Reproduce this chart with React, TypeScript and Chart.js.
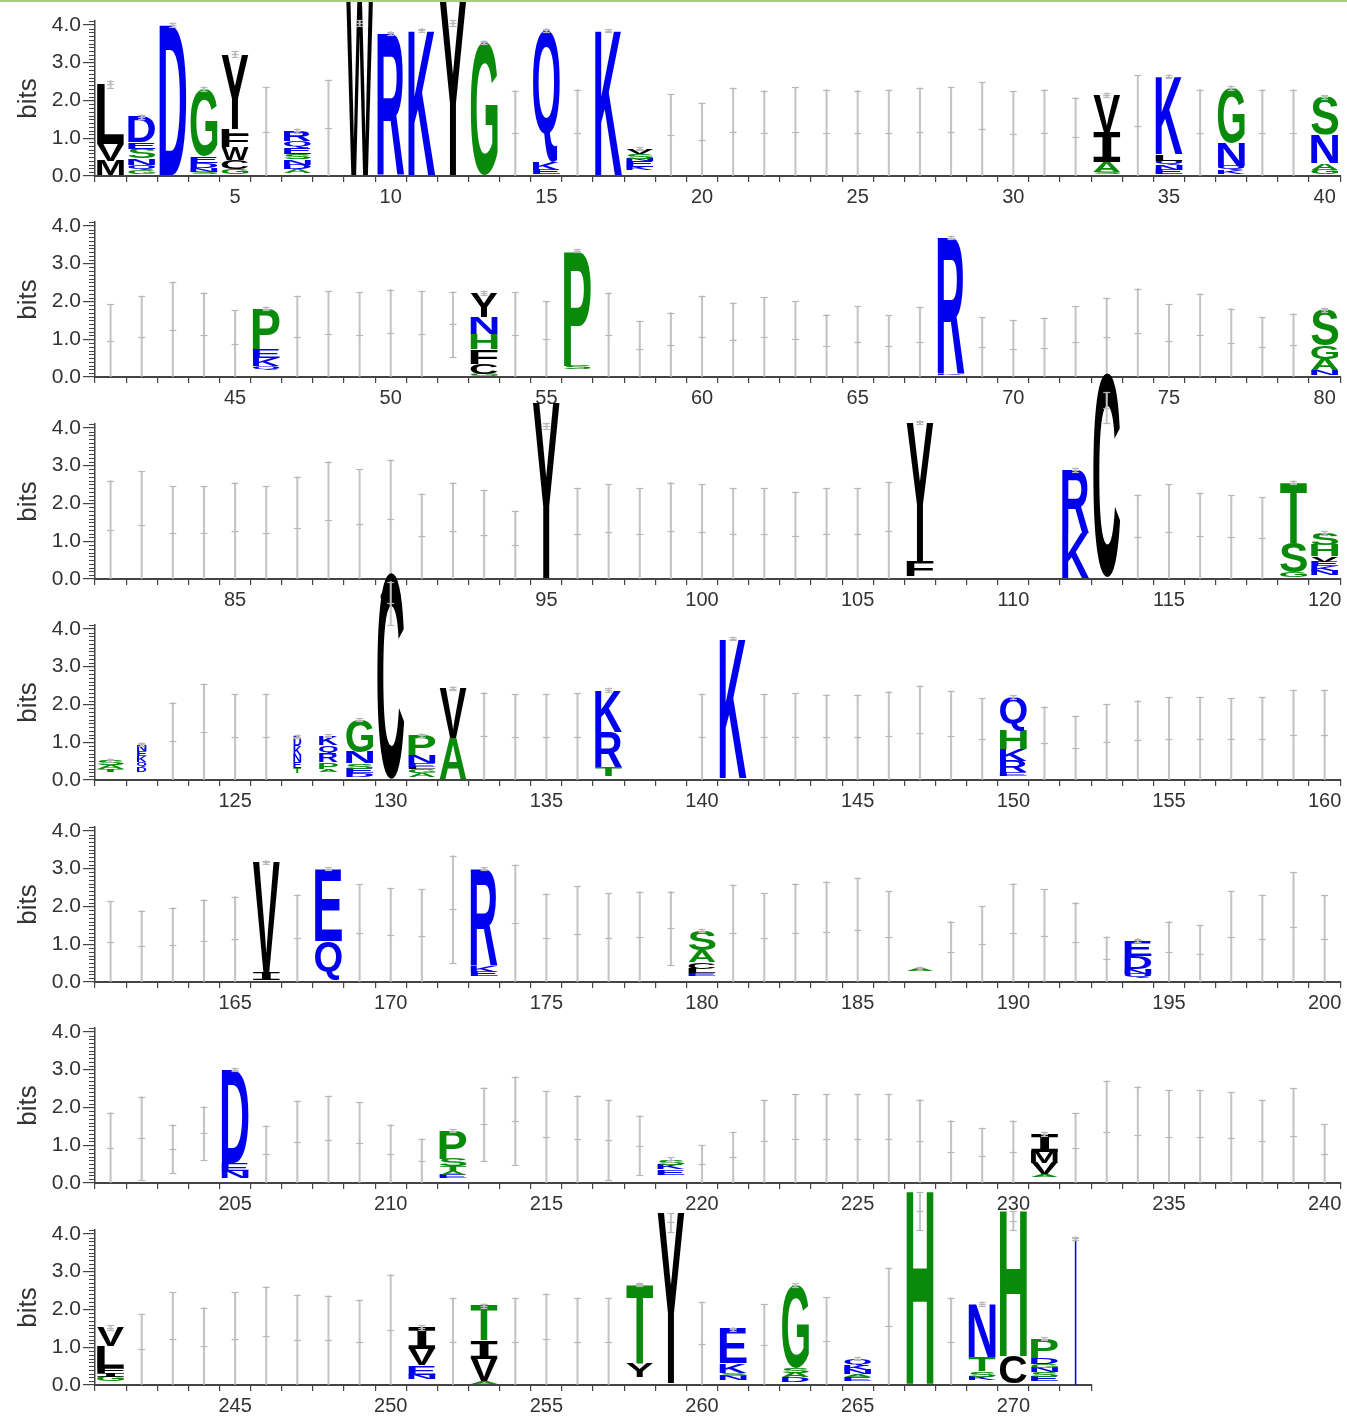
import React, { useEffect, useRef } from "react";
import { Chart, registerables } from "chart.js";
Chart.register(...registerables);

// ---------------- data ----------------
const rowStart = [1, 41, 81, 121, 161, 201, 241];
const rowEnd = [40, 80, 120, 160, 200, 240, 272];

// error bar top / centre (bits) per position, null = no column
const errTop1 = [2.52,1.62,4.05,2.36,3.3,2.35,1.25,2.54,4.12,3.82, 3.9,4.12,3.58,2.26,3.9,2.28,3.88,0.76,2.16,1.93, 2.33,2.26,2.35,2.28,2.26,2.28,2.33,2.35,2.48,2.24, 2.28,2.07,2.2,2.66,2.68,2.28,2.38,2.28,2.28,2.13];
const errMid1 = [2.43,1.56,4.0,2.3,3.23,0.78,1.19,1.03,4.05,3.77, 3.86,4.05,3.54,0.53,3.86,0.63,3.84,0.72,0.77,0.61, 0.79,0.59,0.72,0.66,0.59,0.63,0.7,0.7,0.77,0.68, 0.77,0.66,2.15,0.96,2.63,0.55,2.33,0.77,0.79,2.08];
const errTop2 = [1.92,2.14,2.51,2.23,1.76,1.86,2.14,2.27,2.24,2.31, 2.27,2.25,2.28,2.24,2.0,3.38,2.23,1.48,1.7,2.14, 1.96,2.11,2.0,1.65,1.87,1.63,1.85,3.73,1.58,1.5, 1.56,1.87,2.09,2.34,1.92,2.2,1.81,1.58,1.67,1.82];
const errMid2 = [0.64,0.62,0.76,0.64,0.64,1.81,0.6,0.62,0.57,0.64, 0.62,1.39,2.23,0.5,0.6,3.34,1.11,0.52,0.64,0.77, 0.67,0.53,0.58,0.53,0.73,0.66,0.86,3.69,0.62,0.44, 0.6,0.73,0.64,0.7,0.6,0.82,0.6,0.6,0.79,1.77];
const errTop3 = [2.6,2.85,2.45,2.45,2.55,2.45,2.7,3.1,2.9,3.15, 2.25,2.55,2.35,1.8,4.12,2.4,2.5,2.4,2.55,2.5, 2.4,2.4,2.3,2.4,2.4,2.56,4.18,null,null,null, null,2.94,4.94,2.23,2.5,2.27,2.21,2.16,2.6,1.27];
const errMid3 = [1.0,1.27,1.0,0.9,1.0,0.9,1.15,1.15,1.4,1.3, 0.76,0.95,0.8,0.7,4.05,0.75,0.8,0.8,0.9,0.75, 0.63,0.7,0.75,0.75,0.9,0.86,4.14,null,null,null, null,2.89,4.53,0.71,0.76,0.58,0.6,0.8,2.55,1.22];
const errTop4 = [0.56,0.99,2.05,2.54,2.27,2.27,1.19,1.21,1.63,5.25, 1.23,2.47,2.31,2.27,2.27,2.29,2.43,null,null,2.27, 3.78,2.27,2.29,2.25,2.25,2.34,2.49,2.35,2.16,2.24, 1.94,1.69,2.0,2.1,2.19,2.19,2.16,2.19,2.38,2.38];
const errMid4 = [0.52,0.95,0.97,0.77,0.6,0.78,1.15,1.17,1.59,4.68, 1.19,2.42,0.67,0.55,0.53,0.64,2.38,null,null,0.64, 3.74,0.62,0.65,0.53,0.56,0.69,0.75,0.72,0.62,2.19, 0.65,0.58,0.69,0.69,0.65,0.62,0.64,0.66,0.73,0.73];
const errTop5 = [2.14,1.89,1.96,2.18,2.26,3.21,2.31,3.03,2.58,2.48, 2.45,3.34,3.03,3.1,2.33,2.53,2.35,2.39,2.39,1.4, 2.57,2.35,2.6,2.65,2.75,2.4,0.4,1.6,2.0,2.6, 2.45,2.1,1.2,1.15,1.6,1.5,2.4,2.3,2.9,2.3];
const errMid5 = [0.6,0.55,0.66,0.88,0.82,3.17,0.66,2.99,0.84,0.78, 0.7,1.92,2.99,1.51,0.84,0.9,0.84,1.06,1.42,1.36, 0.9,0.7,0.85,0.75,0.55,0.7,0.36,0.6,0.65,0.85, 0.75,0.6,0.5,1.1,0.6,0.6,0.8,0.75,0.9,0.8];
const errTop6 = [1.86,2.28,1.54,2.02,3.04,1.51,2.17,2.3,2.13,1.54, 1.17,1.42,2.52,2.81,2.43,2.31,2.2,1.78,0.68,1.0, 1.35,2.2,2.35,2.35,2.35,2.35,2.2,1.65,1.45,1.65, 1.35,1.85,2.7,2.55,2.45,2.45,2.4,2.2,2.5,1.55];
const errMid6 = [0.72,1.18,0.9,1.32,3.0,0.7,0.68,0.66,0.59,0.55, 0.52,1.38,1.55,1.64,0.94,0.8,1.14,0.99,0.62,0.5, 0.6,0.8,0.85,0.85,0.85,0.85,0.8,0.7,0.65,0.7, 1.3,0.7,1.0,0.9,0.9,0.85,0.85,0.8,0.9,0.7];
const errTop7 = [1.58,1.88,2.45,2.05,2.45,2.6,2.38,2.36,2.25,2.92, 1.58,2.3,2.15,2.3,2.41,2.3,2.3,2.7,4.54,2.19, 1.52,2.13,2.69,2.32,0.74,3.1,5.1,2.3,2.2,4.6, 1.26,3.92];
const errMid7 = [1.52,0.6,1.04,0.58,0.84,0.8,0.77,0.75,0.86,1.28, 1.52,0.55,2.1,0.63,0.7,0.63,0.6,2.66,4.3,0.7, 1.47,0.58,2.64,0.84,0.7,1.27,4.6,0.63,2.15,4.35, 1.22,3.88];

// letter stacks, bottom to top: letter + height in bits ("_" = faint filler, "~" = column width fraction)
const stacks1: [number, string][] = [
  [1, "_.02 M.39 V.44 L1.58"],
  [2, "_.06 G.09 Q.13 N.18 S.26 E.18 D.66"],
  [3, "_.02 D3.98"],
  [4, "_.05 S.06 N.1 D.13 E.18 G1.78"],
  [5, "_.06 G.13 C.24 W.34 F.35 L.13 Y1.98"],
  [7, "_.08 A.1 D.12 N.14 S.15 E.17 Q.17 R.26"],
  [9, "_.03 W4.67"],
  [10, "_.03 R3.74"],
  [11, "_.02 K3.84"],
  [12, "_.02 Y4.63"],
  [13, "_.02 G3.52"],
  [15, "_.05 E.12 K.2 Q3.49"],
  [17, "_.02 K3.82"],
  [18, "_.15 K.09 E.15 N.07 S.13 V.13"],
  [33, "_.04 S.06 A.26 I.8 V.99"],
  [35, "_.05 E.12 N.12 Q.12 L.16 K2.06"],
  [37, "_.05 K.1 Q.12 N.6 G1.46"],
  [40, "_.05 G.12 A.17 N.75 S.99"],
];
const stacks2: [number, string][] = [
  [46, "_.2 Q.1 K.2 E.25 P1.06"],
  [53, "_.02 G.05 C.28 F.38 H.4 N.45 Y.65"],
  [56, "_.2 S.09 P3.05"],
  [68, "_.04 K.03 R3.62"],
  [80, "_.04 N.13 A.3 G.35 S.95"],
];
const stacks3: [number, string][] = [
  [95, "_.03 Y4.63"],
  [107, "_.08 F.4 Y3.66"],
  [112, "_.03 K1.18 R1.68"],
  [113, "_.05 C5.4"],
  [119, "_.05 G.12 S.78 T1.6"],
  [120, "_.1 N.12 K.12 E.12 V.14 H.3 S.32"],
];
const stacks4: [number, string][] = [
  [121, "_.22 T.08 A.1 S.12"],
  [122, "~.3 _.22 D.12 Q.13 K.16 E.14 N.18"],
  [127, "~.25 _.18 T.14 E.15 N.2 K.22 D.26"],
  [128, "~.6 _.22 A.08 P.18 R.22 Q.23 K.24"],
  [129, "_.08 D.1 E.12 S.14 N.3 G.85"],
  [130, "_.03 C5.45"],
  [131, "_.08 A.1 G.1 L.07 E.1 N.2 P.54"],
  [132, "_.03 A1.08 V1.31"],
  [137, "_.1 T.25 R.93 K1.1"],
  [141, "_.04 K3.7"],
  [150, "_.1 E.1 R.3 K.32 H.5 Q.87"],
];
const stacks5: [number, string][] = [
  [166, "_.06 I.2 V2.91"],
  [168, "_.08 Q1.0 E1.91"],
  [173, "_.15 E.12 K.17 R2.55"],
  [180, "_.15 E.08 L.12 C.18 A.3 S.53"],
  [187, "_.28 A.08"],
  [194, "_.1 Q.12 N.13 D.35 E.4"],
];
const stacks6: [number, string][] = [
  [205, "_.12 N.2 E.2 D2.48"],
  [212, "_.12 E.1 A.1 T.12 S.2 P.74"],
  [219, "_.22 E.14 K.12 S.14"],
  [231, "_.15 A.08 V.3 M.3 I.47"],
];
const stacks7: [number, string][] = [
  [241, "_.1 G.12 I.1 F.12 L.58 V.5"],
  [251, "_.15 N.12 E.25 V.42 I.58"],
  [253, "_.03 A.07 V.6 I.48 T.92"],
  [258, "_.2 Y.38 T2.08"],
  [259, "_.05 Y4.49"],
  [261, "_.12 N.12 S.08 K.25 E.9"],
  [263, "_.08 D.12 A.12 S.12 G2.2"],
  [265, "_.1 E.1 A.08 N.12 K.12 Q.18"],
  [267, "_.03 H5.12"],
  [269, "_.12 K.1 S.15 T.38 N1.4"],
  [270, "_.04 C.74 H3.85"],
  [271, "_.1 E.12 S.12 N.12 G.1 D.16 P.5"],
  [272, "|3.88"],
];

const errTops = [errTop1, errTop2, errTop3, errTop4, errTop5, errTop6, errTop7];
const errMids = [errMid1, errMid2, errMid3, errMid4, errMid5, errMid6, errMid7];
const stacksAll = [stacks1, stacks2, stacks3, stacks4, stacks5, stacks6, stacks7];

const yTickValues = [0, 1, 2, 3, 4];
const yMax = 4.1;

// ---------------- styling / layout ----------------
const FONT = "'Liberation Sans', Arial, Helvetica, sans-serif";
const SERIF_I_FONT = "'DejaVu Sans Mono', 'Liberation Mono', monospace";
const BLUE = "#0000ee";
const GREEN = "#0a8a0a";
const BLACK = "#000000";
const HYDROPHILIC = "RKDENQ";
const NEUTRAL = "SGHTAP";
const COL = 31.13;
const AXIS_X = 95;
const PAD_R = 6.8;
const TOP_PAD = 70;
const PLOT_H = 155;
const XAXIS_H = 41;
const CANVAS_H = TOP_PAD + PLOT_H + XAXIS_H;
const ROW_BASE = [176, 377, 579, 780, 982, 1183, 1385];

function colorOf(ch: string) {
  if (ch === "|" || HYDROPHILIC.includes(ch)) return BLUE;
  if (NEUTRAL.includes(ch)) return GREEN;
  return BLACK;
}

function drawGlyph(ctx: CanvasRenderingContext2D, ch: string, x: number, yTop: number, w: number, h: number) {
  if (h < 0.4) return;
  ctx.save();
  ctx.font = ch === "I" ? `bold 200px ${SERIF_I_FONT}` : `bold 200px ${FONT}`;
  ctx.textAlign = "left";
  ctx.textBaseline = "alphabetic";
  const m = ctx.measureText(ch);
  const L = m.actualBoundingBoxLeft;
  const R = m.actualBoundingBoxRight;
  const A = m.actualBoundingBoxAscent;
  const D = m.actualBoundingBoxDescent;
  ctx.translate(x, yTop + h);
  ctx.scale(w / (L + R), h / (A + D));
  ctx.fillStyle = colorOf(ch);
  ctx.fillText(ch, L, -D);
  ctx.restore();
}

function LogoRow({ idx }: { idx: number }) {
  const ref = useRef<HTMLCanvasElement>(null);
  const start = rowStart[idx];
  const end = rowEnd[idx];
  const n = end - start + 1;
  const plotW = n * COL;
  const width = Math.round(AXIS_X + plotW + PAD_R);
  const padRight = width - AXIS_X - plotW;
  const top = ROW_BASE[idx] - TOP_PAD - PLOT_H;

  useEffect(() => {
    const eTop = errTops[idx];
    const eMid = errMids[idx];
    const positions = Array.from({ length: n }, (_, i) => start + i);
    const errData: any[] = [];
    positions.forEach((p, i) => {
      const t = eTop[i];
      const c = eMid[i];
      if (t == null || c == null) return;
      errData.push({ x: p, y: [Math.max(0, 2 * c - t), t] });
    });
    const parsed = stacksAll[idx].map(([p, spec]) => {
      let wf = 0.86;
      const items: [string, number][] = [];
      spec.split(" ").forEach((t) => {
        const v = parseFloat(t.slice(1));
        if (t[0] === "~") wf = v;
        else items.push([t[0], v]);
      });
      return { p, wf, items };
    });

    const plugin = {
      id: "logo" + idx,
      beforeDatasetsDraw(chart: any) {
        const { ctx, scales } = chart;
        const xs = scales.x;
        const ys = scales.y;
        const colW = xs.getPixelForValue(start + 1) - xs.getPixelForValue(start);
        for (const { p, wf, items } of parsed) {
          const cx = xs.getPixelForValue(p);
          const w = colW * wf;
          let cum = 0;
          for (const [ch, h] of items) {
            const yb = ys.getPixelForValue(cum);
            const yt = ys.getPixelForValue(cum + h);
            cum += h;
            if (ch === "_") continue;
            if (ch === "|") {
              ctx.save();
              ctx.fillStyle = BLUE;
              ctx.fillRect(cx - 0.75, yt, 1.5, yb - yt);
              ctx.restore();
              continue;
            }
            drawGlyph(ctx, ch, cx - w / 2, yt, w, yb - yt);
          }
        }
      },
      afterDatasetsDraw(chart: any) {
        const { ctx, scales } = chart;
        const xs = scales.x;
        const ys = scales.y;
        ctx.save();
        ctx.strokeStyle = "#b8b8b8";
        ctx.lineWidth = 1.2;
        for (const d of errData) {
          const cx = xs.getPixelForValue(d.x);
          const vals = [d.y[1], (d.y[0] + d.y[1]) / 2];
          if (d.y[0] > 0) vals.push(d.y[0]);
          for (const v of vals) {
            const py = Math.round(ys.getPixelForValue(v)) + 0.5;
            ctx.beginPath();
            ctx.moveTo(cx - 3.5, py);
            ctx.lineTo(cx + 3.5, py);
            ctx.stroke();
          }
        }
        ctx.restore();
      },
      afterDraw(chart: any) {
        const { ctx, scales } = chart;
        const ys = scales.y;
        const xr = ys.right;
        ctx.save();
        ctx.strokeStyle = "#444";
        ctx.lineWidth = 1;
        for (let i = 1; i <= 41; i++) {
          if (i % 10 === 0) continue;
          const py = Math.round(ys.getPixelForValue(i / 10)) + 0.5;
          ctx.beginPath();
          ctx.moveTo(xr - 6, py);
          ctx.lineTo(xr, py);
          ctx.stroke();
        }
        ctx.restore();
      },
    };

    const chart = new Chart(ref.current as HTMLCanvasElement, {
      type: "bar",
      data: {
        datasets: [
          {
            data: errData,
            backgroundColor: "#c4c4c4",
            borderWidth: 0,
            barThickness: 1.4,
            clip: false as any,
          } as any,
        ],
      },
      options: {
        animation: false,
        responsive: false,
        layout: { padding: { top: TOP_PAD, right: padRight, left: 0, bottom: 0 } },
        plugins: { legend: { display: false }, tooltip: { enabled: false } },
        scales: {
          x: {
            type: "linear",
            min: start - 0.5,
            max: end + 0.5,
            offset: false,
            afterBuildTicks: (s: any) => {
              s.ticks = positions.map((v) => ({ value: v }));
            },
            afterFit: (s: any) => {
              s.height = XAXIS_H;
            },
            ticks: {
              autoSkip: false,
              maxRotation: 0,
              minRotation: 0,
              padding: 3,
              color: "#333",
              font: { family: FONT, size: 20 },
              callback: (v: any) => (Number(v) % 5 === 0 ? String(v) : ""),
            },
            grid: { display: true, drawOnChartArea: false, drawTicks: true, tickLength: 6, color: "#444", lineWidth: 1.2 },
            border: { display: true, color: "#444", width: 2 },
          },
          y: {
            type: "linear",
            min: 0,
            max: yMax,
            afterBuildTicks: (s: any) => {
              s.ticks = yTickValues.map((v) => ({ value: v }));
            },
            afterFit: (s: any) => {
              s.width = AXIS_X;
            },
            ticks: {
              padding: 2,
              color: "#333",
              font: { family: FONT, size: 21 },
              callback: (v: any) => Number(v).toFixed(1),
            },
            grid: { display: true, drawOnChartArea: false, drawTicks: true, tickLength: 12, color: "#444", lineWidth: 1.2 },
            border: { display: true, color: "#444", width: 1.5 },
            title: {
              display: true,
              text: "bits",
              color: "#333",
              font: { family: FONT, size: 26 },
              padding: { top: 13, bottom: 0 },
            },
          },
        },
      },
      plugins: [plugin as any],
    } as any);
    return () => chart.destroy();
  }, []);

  return (
    <canvas
      ref={ref}
      width={width}
      height={CANVAS_H}
      style={{ position: "absolute", left: 0, top, width, height: CANVAS_H }}
    />
  );
}

export default function App() {
  return (
    <div
      style={{
        position: "absolute",
        left: 0,
        top: 0,
        width: 1347,
        height: 1421,
        overflow: "hidden",
        background: "#ffffff",
      }}
    >
      {rowStart.map((_, i) => (
        <LogoRow key={i} idx={i} />
      ))}
      <div style={{ position: "absolute", left: 0, top: 0, width: 1347, height: 2, background: "#a6d07c" }} />
    </div>
  );
}
